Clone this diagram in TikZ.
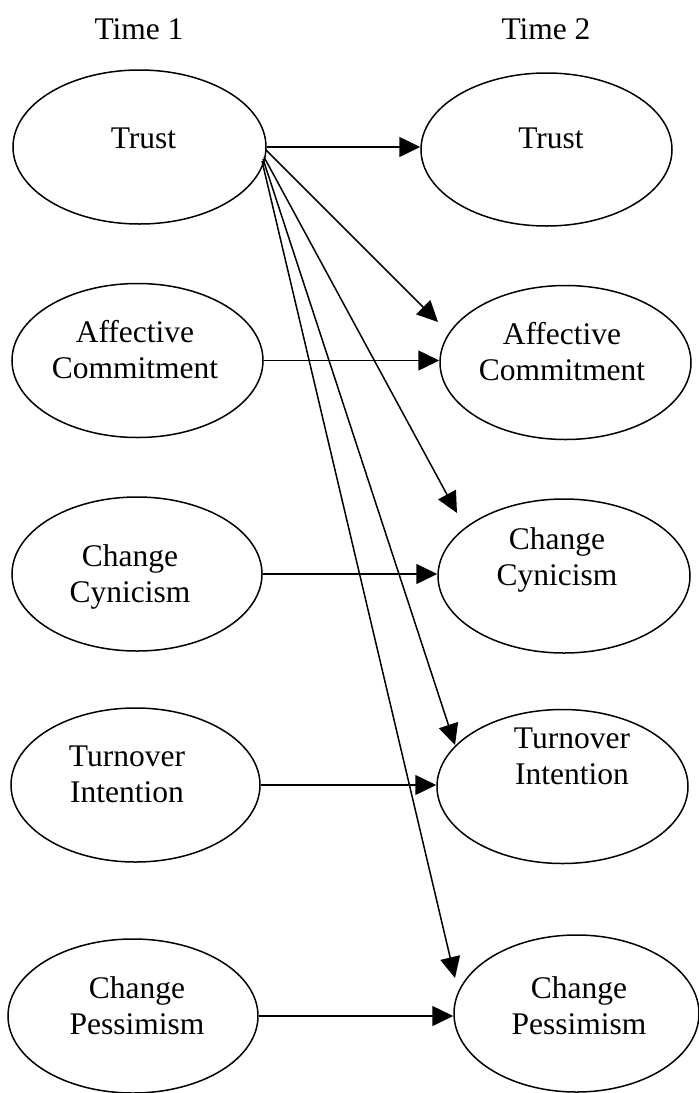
\documentclass[tikz,border=0pt]{standalone}
\usepackage{fontspec}
\setmainfont{Liberation Serif}
\usetikzlibrary{arrows.meta,shapes.geometric}
\begin{document}
\begin{tikzpicture}[x=1pt,y=-1pt,
  oval/.style={draw,ellipse,line width=1.5pt,minimum width=251pt,minimum height=154pt,inner sep=0pt},
  lbl/.style={font=\fontsize{31.5}{36}\selectfont,align=center,inner sep=0pt},
  arr/.style={line width=1.5pt,-{Triangle[length=21pt,width=20pt]}}]
\useasboundingbox (0,0) rectangle (699,1093);

% column headings
\node[lbl] (h1) at (139,29) {Time 1};
\node[lbl] (h2) at (546,29) {Time 2};

% Time 1 variables
\node[oval,minimum width=253pt] (L1) at (139.5,147) {};
\node[oval] (L2) at (137.5,360.5) {};
\node[oval,minimum width=250pt] (L3) at (137,574) {};
\node[oval,minimum width=249pt] (L4) at (135.5,785) {};
\node[oval,minimum width=250pt] (L5) at (133,1016) {};

\node[lbl] (l1) at (143.5,138) {Trust};
\node[lbl] (l2) at (135,350) {Affective\\Commitment};
\node[lbl] (l3) at (130,577) {Change\\Cynicism};
\node[lbl] (l4) at (127,774) {Turnover\\Intention};
\node[lbl] (l5) at (137,1006) {Change\\Pessimism};

% Time 2 variables
\node[oval,minimum height=153pt] (R1) at (546.5,149.5) {};
\node[oval] (R2) at (565.5,362.5) {};
\node[oval,minimum width=252pt] (R3) at (564,576) {};
\node[oval] (R4) at (562.5,786.5) {};
\node[oval,minimum width=245pt,minimum height=157pt] (R5) at (576.5,1013.5) {};

\node[lbl] (r1) at (551,138) {Trust};
\node[lbl] (r2) at (562,352) {Affective\\Commitment};
\node[lbl] (r3) at (557,560) {Change\\Cynicism};
\node[lbl] (r4) at (572,756) {Turnover\\Intention};
\node[lbl] (r5) at (579,1006) {Change\\Pessimism};

% stability paths, drawn level from each Time 1 oval
\draw[arr] (L1.east) -- (L1.east -| R1.west);
\draw[arr] (L2.east) -- (L2.east -| R2.west);
\draw[arr] (L3.east) -- (L3.east -| R3.west);
\draw[arr] (L4.east) -- (L4.east -| R4.west);
\draw[arr] (L5.east) -- (L5.east -| R5.west);

% cross-lagged paths from Time 1 trust
\coordinate (s2) at (266,150);
\coordinate (s3) at (264,157);
\coordinate (s4) at (263,159);
\coordinate (s5) at (262,161);
\coordinate (t2) at (438,322);
\coordinate (t3) at (457,513);
\coordinate (t4) at (455,745);
\coordinate (t5) at (455,978);
\draw[arr] (s2) -- (t2);
\draw[arr] (s3) -- (t3);
\draw[arr] (s4) -- (t4);
\draw[arr] (s5) -- (t5);
\end{tikzpicture}
\end{document}
